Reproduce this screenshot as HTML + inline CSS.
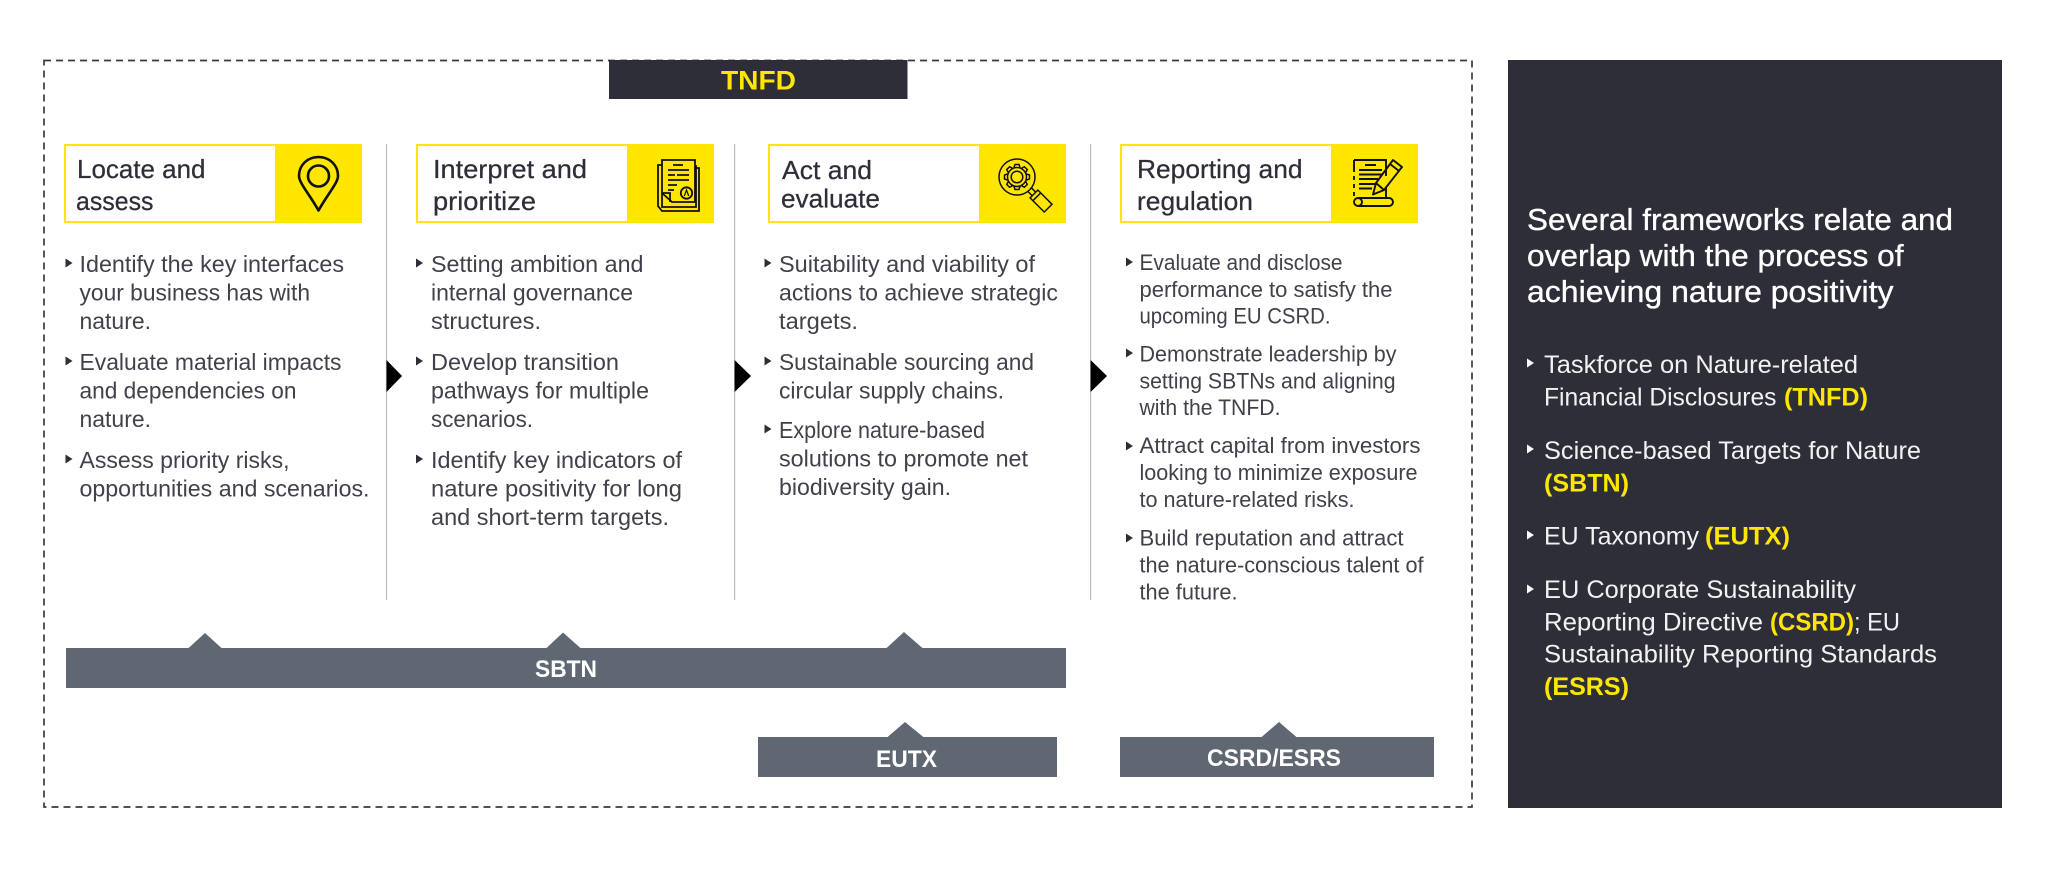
<!DOCTYPE html>
<html><head><meta charset="utf-8">
<style>
html,body{margin:0;padding:0;background:#fff;width:2048px;height:874px;overflow:hidden}
svg{display:block}
text{font-family:"Liberation Sans",sans-serif;white-space:pre}
.b{font-size:23.5px;fill:#41414b}
.s{font-size:22px;fill:#41414b}
.h{font-size:26px;fill:#2e2e38;stroke:#2e2e38;stroke-width:.25}
.w{font-size:25px;fill:#f2f2f3}
.y{font-size:25px;fill:#ffe600;font-weight:bold}
.t{font-size:31px;fill:#fff;stroke:#fff;stroke-width:.35}
.l{font-size:24px;fill:#fff;font-weight:bold}
</style></head><body>
<svg width="2048" height="874" viewBox="0 0 2048 874" xmlns="http://www.w3.org/2000/svg">
<defs>
<path id="bu" d="M0 -4.500L7 0L0 4.500Z"/>
<path id="th" d="M-3 -9.500L-2 -12.500H2L3 -9.500"/>
</defs>
<rect x="44" y="60.500" width="1428" height="746.500" fill="none" stroke="#3a3a44" stroke-width="1.700" stroke-dasharray="7 5"/>
<rect x="609" y="60" width="298.500" height="39" fill="#2e2e38"/>
<text x="721" y="89.500" textLength="75" lengthAdjust="spacingAndGlyphs" style="font-size:27px;font-weight:bold;fill:#ffe600">TNFD</text>

<!-- dividers -->
<g stroke="#bdbdc0" stroke-width="1.200">
<line x1="386.500" y1="144" x2="386.500" y2="600"/>
<line x1="734.600" y1="144" x2="734.600" y2="600"/>
<line x1="1090.600" y1="144" x2="1090.600" y2="600"/>
</g>
<g fill="#000">
<path d="M386.500 360L402 376L386.500 392Z"/>
<path d="M734.600 360L751 376L734.600 392Z"/>
<path d="M1090.600 360L1107 376L1090.600 392Z"/>
</g>

<!-- headers -->
<g fill="#fff" stroke="#ffe600" stroke-width="2">
<rect x="65" y="145" width="296" height="77"/>
<rect x="417" y="145" width="296" height="77"/>
<rect x="769" y="145" width="296" height="77"/>
<rect x="1121" y="145" width="296" height="77"/>
</g>
<g fill="#ffe600">
<rect x="275" y="144" width="87" height="79"/>
<rect x="627" y="144" width="87" height="79"/>
<rect x="979" y="144" width="87" height="79"/>
<rect x="1331" y="144" width="87" height="79"/>
</g>
<text class="h" x="77" y="178" textLength="128.500" lengthAdjust="spacingAndGlyphs">Locate and</text>
<text class="h" x="76" y="210" textLength="77.500" lengthAdjust="spacingAndGlyphs">assess</text>
<text class="h" x="433" y="178" textLength="154" lengthAdjust="spacingAndGlyphs">Interpret and</text>
<text class="h" x="433" y="210" textLength="103" lengthAdjust="spacingAndGlyphs">prioritize</text>
<text class="h" x="782" y="179" textLength="90" lengthAdjust="spacingAndGlyphs">Act and</text>
<text class="h" x="781" y="207.700" textLength="99" lengthAdjust="spacingAndGlyphs">evaluate</text>
<text class="h" x="1137" y="178" textLength="165.500" lengthAdjust="spacingAndGlyphs">Reporting and</text>
<text class="h" x="1137" y="210" textLength="116" lengthAdjust="spacingAndGlyphs">regulation</text>

<!-- pin icon -->
<g fill="none" stroke="#111" stroke-width="2.600">
<path d="M318.500 210.500C310 195 299 183 299 176C299 165 307.500 157 318.500 157C329.500 157 338 165 338 176C338 183 327 195 318.500 210.500Z" stroke-linejoin="round"/>
<circle cx="318.500" cy="176" r="10.500"/>
</g>
<!-- doc icon -->
<g fill="none" stroke="#111" stroke-width="1.800">
<path d="M662 165H658V206L662 211H699V168H695"/>
<path d="M662 193V207H696V165"/>
<path d="M662 160H695V202H672L662 193Z"/>
<path d="M662 193H670V202"/>
<path d="M673 165H683M668 170H689M668 175H675M677 175H689M668 180H689M668 185H677M668 190H674"/>
<circle cx="686.500" cy="193" r="5.700"/>
<path d="M684.300 196L686.500 190L688.700 196" stroke-width="1.200"/>
</g>
<!-- magnifier -->
<g fill="none" stroke="#111" stroke-width="1.500" transform="translate(1017 177)">
<circle r="18"/>
<circle r="5.800"/>
<circle r="9.500"/>
<use href="#th"/><use href="#th" transform="rotate(45)"/><use href="#th" transform="rotate(90)"/><use href="#th" transform="rotate(135)"/><use href="#th" transform="rotate(180)"/><use href="#th" transform="rotate(225)"/><use href="#th" transform="rotate(270)"/><use href="#th" transform="rotate(315)"/>
<g transform="rotate(45)">
<path d="M18 -2.500H24M18 2.500H24"/>
<rect x="24" y="-5.500" width="20" height="11"/>
<path d="M28 -5.500V5.500"/>
</g>
</g>
<!-- pen scroll -->
<g fill="none" stroke="#111" stroke-width="1.900">
<path d="M1354 160H1386V176M1354 160V172M1354 176V180M1354 184V188M1354 192V196"/>
<path d="M1365 165H1376M1359 170H1382M1359 174.500H1382M1359 179H1378M1359 184H1375M1359 188.500H1372"/>
<path d="M1386 188V198H1358M1358 198A4 4 0 0 0 1358 206H1389A4 4 0 0 0 1389 198H1386M1358 198A4 4 0 0 1 1358 206"/>
<path d="M1393 160L1402 167L1384 190L1373 194.500L1376 183Z" stroke-linejoin="round"/>
<path d="M1390 164L1399 171M1376 183L1384 190"/>
</g>

<!-- bullets -->
<g fill="#2e2e38">
<use href="#bu" x="65.500" y="263"/><use href="#bu" x="65.500" y="361"/><use href="#bu" x="65.500" y="459"/>
<use href="#bu" x="416" y="263"/><use href="#bu" x="416" y="361"/><use href="#bu" x="416" y="459"/>
<use href="#bu" x="764.500" y="263"/><use href="#bu" x="764.500" y="361"/><use href="#bu" x="764.500" y="429"/>
<use href="#bu" x="1126" y="262"/><use href="#bu" x="1126" y="353"/><use href="#bu" x="1126" y="446"/><use href="#bu" x="1126" y="538"/>
</g>
<!-- col 1 -->
<text class="b" x="79.500" y="272" textLength="264.500" lengthAdjust="spacingAndGlyphs">Identify the key interfaces</text>
<text class="b" x="79.500" y="300.700" textLength="230.500" lengthAdjust="spacingAndGlyphs">your business has with</text>
<text class="b" x="79.500" y="329" textLength="71.500" lengthAdjust="spacingAndGlyphs">nature.</text>
<text class="b" x="79.500" y="370" textLength="262" lengthAdjust="spacingAndGlyphs">Evaluate material impacts</text>
<text class="b" x="79.500" y="398.700" textLength="217" lengthAdjust="spacingAndGlyphs">and dependencies on</text>
<text class="b" x="79.500" y="427" textLength="71.500" lengthAdjust="spacingAndGlyphs">nature.</text>
<text class="b" x="79.500" y="468" textLength="210" lengthAdjust="spacingAndGlyphs">Assess priority risks,</text>
<text class="b" x="79.500" y="496.700" textLength="290" lengthAdjust="spacingAndGlyphs">opportunities and scenarios.</text>
<!-- col 2 -->
<text class="b" x="431" y="272" textLength="212.500" lengthAdjust="spacingAndGlyphs">Setting ambition and</text>
<text class="b" x="431" y="300.700" textLength="202" lengthAdjust="spacingAndGlyphs">internal governance</text>
<text class="b" x="431" y="329" textLength="110" lengthAdjust="spacingAndGlyphs">structures.</text>
<text class="b" x="431" y="370" textLength="188" lengthAdjust="spacingAndGlyphs">Develop transition</text>
<text class="b" x="431" y="398.700" textLength="218" lengthAdjust="spacingAndGlyphs">pathways for multiple</text>
<text class="b" x="431" y="427" textLength="102" lengthAdjust="spacingAndGlyphs">scenarios.</text>
<text class="b" x="431" y="468" textLength="251" lengthAdjust="spacingAndGlyphs">Identify key indicators of</text>
<text class="b" x="431" y="496.700" textLength="251" lengthAdjust="spacingAndGlyphs">nature positivity for long</text>
<text class="b" x="431" y="525" textLength="238" lengthAdjust="spacingAndGlyphs">and short-term targets.</text>
<!-- col 3 -->
<text class="b" x="779" y="272" textLength="256" lengthAdjust="spacingAndGlyphs">Suitability and viability of</text>
<text class="b" x="779" y="300.700" textLength="279" lengthAdjust="spacingAndGlyphs">actions to achieve strategic</text>
<text class="b" x="779" y="329" textLength="79" lengthAdjust="spacingAndGlyphs">targets.</text>
<text class="b" x="779" y="370" textLength="255" lengthAdjust="spacingAndGlyphs">Sustainable sourcing and</text>
<text class="b" x="779" y="398.700" textLength="225" lengthAdjust="spacingAndGlyphs">circular supply chains.</text>
<text class="b" x="779" y="438" textLength="206" lengthAdjust="spacingAndGlyphs">Explore nature-based</text>
<text class="b" x="779" y="466.500" textLength="249" lengthAdjust="spacingAndGlyphs">solutions to promote net</text>
<text class="b" x="779" y="495" textLength="172" lengthAdjust="spacingAndGlyphs">biodiversity gain.</text>
<!-- col 4 -->
<text class="s" x="1139.500" y="270" textLength="203" lengthAdjust="spacingAndGlyphs">Evaluate and disclose</text>
<text class="s" x="1139.500" y="297" textLength="253" lengthAdjust="spacingAndGlyphs">performance to satisfy the</text>
<text class="s" x="1139.500" y="323.700" textLength="191" lengthAdjust="spacingAndGlyphs">upcoming EU CSRD.</text>
<text class="s" x="1139.500" y="361.500" textLength="257" lengthAdjust="spacingAndGlyphs">Demonstrate leadership by</text>
<text class="s" x="1139.500" y="388.500" textLength="256" lengthAdjust="spacingAndGlyphs">setting SBTNs and aligning</text>
<text class="s" x="1139.500" y="415" textLength="141" lengthAdjust="spacingAndGlyphs">with the TNFD.</text>
<text class="s" x="1139.500" y="453" textLength="281" lengthAdjust="spacingAndGlyphs">Attract capital from investors</text>
<text class="s" x="1139.500" y="480" textLength="278" lengthAdjust="spacingAndGlyphs">looking to minimize exposure</text>
<text class="s" x="1139.500" y="507" textLength="215" lengthAdjust="spacingAndGlyphs">to nature-related risks.</text>
<text class="s" x="1139.500" y="545.700" textLength="264" lengthAdjust="spacingAndGlyphs">Build reputation and attract</text>
<text class="s" x="1139.500" y="572.700" textLength="284" lengthAdjust="spacingAndGlyphs">the nature-conscious talent of</text>
<text class="s" x="1139.500" y="599.700" textLength="98" lengthAdjust="spacingAndGlyphs">the future.</text>

<!-- bars -->
<g fill="#5f6872">
<rect x="66" y="648" width="1000" height="40"/>
<path d="M188 648.500L205 633L222 648.500Z"/>
<path d="M546 648.500L563 632.500L581 648.500Z"/>
<path d="M886 648.500L904 632L923 648.500Z"/>
<rect x="758" y="737" width="299" height="40"/>
<path d="M887 737.500L905 722L924 737.500Z"/>
<rect x="1120" y="737" width="314" height="40"/>
<path d="M1261 737.500L1279 722L1297 737.500Z"/>
</g>
<text class="l" x="535" y="677" textLength="62" lengthAdjust="spacingAndGlyphs">SBTN</text>
<text class="l" x="876" y="767" textLength="61" lengthAdjust="spacingAndGlyphs">EUTX</text>
<text class="l" x="1207" y="766" textLength="134" lengthAdjust="spacingAndGlyphs">CSRD/ESRS</text>

<!-- right panel -->
<rect x="1508" y="60" width="494" height="748" fill="#2e2e38"/>
<text class="t" x="1527" y="230" textLength="426" lengthAdjust="spacingAndGlyphs">Several frameworks relate and</text>
<text class="t" x="1527" y="266" textLength="376.500" lengthAdjust="spacingAndGlyphs">overlap with the process of</text>
<text class="t" x="1527" y="302" textLength="366.500" lengthAdjust="spacingAndGlyphs">achieving nature positivity</text>
<g fill="#fff">
<use href="#bu" x="1527" y="363"/><use href="#bu" x="1527" y="449"/><use href="#bu" x="1527" y="535"/><use href="#bu" x="1527" y="589"/>
</g>
<text class="w" x="1544" y="373" textLength="314" lengthAdjust="spacingAndGlyphs">Taskforce on Nature-related</text>
<text class="w" x="1544" y="405.700" textLength="232.500" lengthAdjust="spacingAndGlyphs">Financial Disclosures</text>
<text class="y" x="1784" y="405.700" textLength="84" lengthAdjust="spacingAndGlyphs">(TNFD)</text>
<text class="w" x="1544" y="459" textLength="377" lengthAdjust="spacingAndGlyphs">Science-based Targets for Nature</text>
<text class="y" x="1544" y="491.500" textLength="85" lengthAdjust="spacingAndGlyphs">(SBTN)</text>
<text class="w" x="1544" y="544.500" textLength="155" lengthAdjust="spacingAndGlyphs">EU Taxonomy</text>
<text class="y" x="1705" y="544.500" textLength="85" lengthAdjust="spacingAndGlyphs">(EUTX)</text>
<text class="w" x="1544" y="598" textLength="312" lengthAdjust="spacingAndGlyphs">EU Corporate Sustainability</text>
<text class="w" x="1544" y="630.500" textLength="219" lengthAdjust="spacingAndGlyphs">Reporting Directive</text>
<text class="y" x="1770" y="630.500" textLength="84" lengthAdjust="spacingAndGlyphs">(CSRD)</text>
<text class="w" x="1854" y="630.500" textLength="46" lengthAdjust="spacingAndGlyphs">; EU</text>
<text class="w" x="1544" y="662.500" textLength="393" lengthAdjust="spacingAndGlyphs">Sustainability Reporting Standards</text>
<text class="y" x="1544" y="695" textLength="85" lengthAdjust="spacingAndGlyphs">(ESRS)</text>
</svg>
</body></html>
